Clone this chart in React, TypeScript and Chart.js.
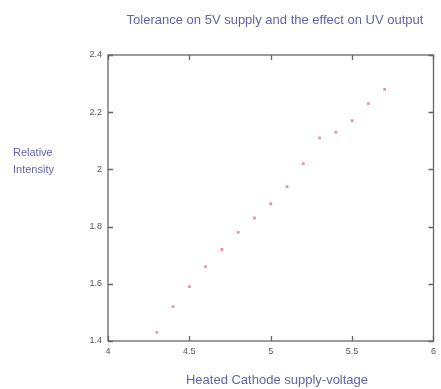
import React, { useEffect, useRef } from "react";
import { Chart, registerables } from "chart.js";
Chart.register(...registerables);

const voltages = [4.3, 4.4, 4.5, 4.6, 4.7, 4.8, 4.9, 5.0, 5.1, 5.2, 5.3, 5.4, 5.5, 5.6, 5.7];
const intensity = [1.43, 1.52, 1.59, 1.66, 1.72, 1.78, 1.83, 1.88, 1.94, 2.02, 2.11, 2.13, 2.17, 2.23, 2.28];
const titleText = "Tolerance on 5V supply and the effect on UV output";
const xLabel = "Heated Cathode supply-voltage";
const yLabelLines = ["Relative", "Intensity"];

const textColor = "#6464aa";
const fontFamily = "'Liberation Sans', Arial, sans-serif";

const decorPlugin = {
  id: "decor",
  afterDraw(chart: any) {
    const { ctx, chartArea, scales } = chart;
    const { left, right, top, bottom } = chartArea;
    ctx.save();
    ctx.strokeStyle = "#666";
    ctx.lineWidth = 1.3;
    const L = 5;
    scales.x.ticks.forEach((t: any) => {
      const px = Math.round(scales.x.getPixelForValue(t.value)) + 0.5;
      ctx.beginPath();
      ctx.moveTo(px, bottom);
      ctx.lineTo(px, bottom - L);
      ctx.moveTo(px, top);
      ctx.lineTo(px, top + L);
      ctx.stroke();
    });
    scales.y.ticks.forEach((t: any) => {
      const py = Math.round(scales.y.getPixelForValue(t.value)) + 0.5;
      ctx.beginPath();
      ctx.moveTo(left, py);
      ctx.lineTo(left + L, py);
      ctx.moveTo(right, py);
      ctx.lineTo(right - L, py);
      ctx.stroke();
    });
    ctx.strokeRect(left, top, right - left, bottom - top);
    ctx.fillStyle = textColor;
    ctx.textBaseline = "middle";
    ctx.textAlign = "center";
    ctx.font = `13px ${fontFamily}`;
    ctx.fillText(titleText, 275, 20);
    ctx.fillText(xLabel, 277, 380);
    ctx.textAlign = "left";
    ctx.font = `11px ${fontFamily}`;
    ctx.fillText(yLabelLines[0], 13, 153);
    ctx.fillText(yLabelLines[1], 13, 170);
    ctx.restore();
  },
};

export default function App() {
  const ref = useRef<HTMLCanvasElement>(null);
  useEffect(() => {
    const chart = new Chart(ref.current!, {
      type: "scatter",
      data: {
        datasets: [
          {
            data: voltages.map((v, i) => ({ x: v, y: intensity[i] })),
            pointStyle: "rect",
            radius: 2,
            backgroundColor: "rgba(210,130,120,0.75)",
            borderColor: "rgba(210,130,120,0.75)",
            borderWidth: 0,
          },
        ],
      },
      options: {
        animation: false,
        responsive: false,
        layout: { padding: { top: 55, right: 6, left: 0, bottom: 0 } },
        plugins: { legend: { display: false }, tooltip: { enabled: false } },
        scales: {
          x: {
            type: "linear",
            min: 4,
            max: 6,
            grid: { display: false, drawTicks: false },
            border: { display: false },
            ticks: {
              stepSize: 0.5,
              color: "#555",
              font: { size: 9, family: fontFamily },
              padding: 5,
              callback: (v: any) => String(Number(v)),
            },
            afterFit: (s: any) => { s.height = 48; },
          },
          y: {
            type: "linear",
            min: 1.4,
            max: 2.4,
            grid: { display: false, drawTicks: false },
            border: { display: false },
            ticks: {
              stepSize: 0.2,
              color: "#555",
              font: { size: 9, family: fontFamily },
              padding: 6,
              callback: (v: any) => String(Math.round(Number(v) * 10) / 10),
            },
            afterFit: (s: any) => { s.width = 108; },
          },
        },
      },
      plugins: [decorPlugin],
    });
    return () => chart.destroy();
  }, []);
  return (
    <div style={{ position: "fixed", left: 0, top: 0, width: 441, height: 389, background: "#fff" }}>
      <canvas ref={ref} width={441} height={389} />
    </div>
  );
}
